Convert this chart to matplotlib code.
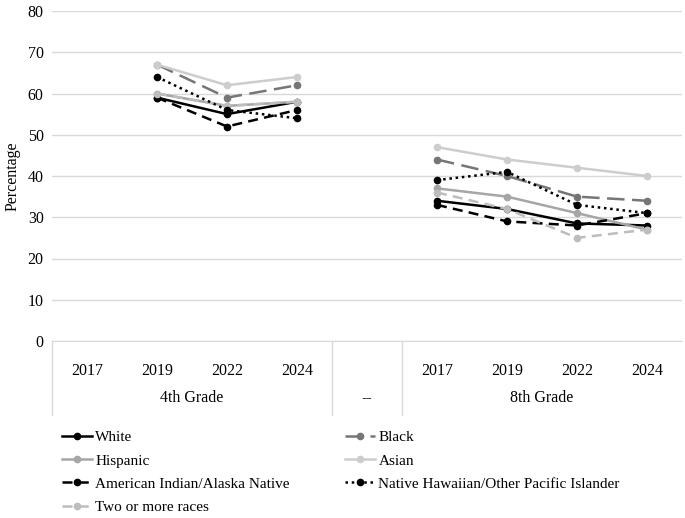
import numpy as np
import matplotlib.pyplot as plt
from matplotlib.lines import Line2D

# x slots: 4th grade 2017-2024, "--" gap, 8th grade 2017-2024
years = ["2017", "2019", "2022", "2024", "", "2017", "2019", "2022", "2024"]
groups = ["4th Grade", "--", "8th Grade"]

nan = np.nan
white = [nan, 59, 55, 58, nan, 34, 32, 28.5, 28]
black = [nan, 67, 59, 62, nan, 44, 40, 35, 34]
hispanic = [nan, 60, 57, 58, nan, 37, 35, 31, 27]
asian = [nan, 67, 62, 64, nan, 47, 44, 42, 40]
aian = [nan, 59, 52, 56, nan, 33, 29, 28, 31]
nhpi = [nan, 64, 56, 54, nan, 39, 41, 33, 31]
two_more = [nan, 60, 57, 58, nan, 36, 32, 25, 27]


def main():
    plt.rcParams["font.family"] = ["Liberation Serif", "DejaVu Serif"]
    fig = plt.figure(figsize=(6.85, 5.18), dpi=100)
    ax = fig.add_axes([52 / 685, 1 - 341 / 518, 630 / 685, 330 / 518])

    x = np.arange(len(years))
    series = [
        ("White", white, "#000000", "-", 1.8),
        ("Hispanic", hispanic, "#a6a6a6", "-", 1.8),
        ("American Indian/Alaska Native", aian, "#000000", (0, (4, 2.5)), 1.8),
        ("Two or more races", two_more, "#bdbdbd", (0, (4, 2.5)), 1.8),
        ("Black", black, "#767676", (0, (7, 3)), 1.8),
        ("Asian", asian, "#cdcdcd", "-", 1.8),
        ("Native Hawaiian/Other Pacific Islander", nhpi, "#000000", (0, (1, 1.5)), 1.8),
    ]
    for name, vals, col, ls, lw in series:
        ax.plot(x, vals, color=col, linestyle=ls, linewidth=lw,
                marker="o", markersize=4.5, label=name)

    ax.set_xlim(-0.5, 8.5)
    ax.set_ylim(0, 80)
    ax.set_yticks(range(0, 81, 10))
    ax.grid(axis="y", color="#d9d9d9", linewidth=1)
    ax.set_axisbelow(True)
    for s in ["top", "right", "left"]:
        ax.spines[s].set_visible(False)
    ax.spines["bottom"].set_color("#d9d9d9")
    ax.tick_params(axis="y", length=0, labelsize=11.5, pad=6)
    ax.set_xticks(x)
    ax.set_xticklabels(years, fontsize=11.5)
    ax.tick_params(axis="x", length=0, pad=16)
    ax.set_ylabel("Percentage", fontsize=11.5, va="center")
    ax.yaxis.set_label_coords(-0.062, 0.5)

    # group labels and separator lines under the axis
    tr = ax.get_xaxis_transform()
    for pos, g in zip([1.5, 4, 6.5], groups):
        ax.text(pos, -0.172, g, transform=tr, ha="center", va="center", fontsize=11.5)
    for xs in [-0.5, 3.5, 4.5]:
        ax.add_line(Line2D([xs, xs], [0, -0.225], transform=tr, color="#d9d9d9",
                           linewidth=1, clip_on=False))

    fig.legend(loc="upper left", bbox_to_anchor=(48 / 685, 1 - 417 / 518),
               ncol=2, frameon=False, fontsize=11, handlelength=2.0,
               columnspacing=3.6, labelspacing=0.62, handletextpad=0.2)

    fig.savefig("out.png", dpi=100)


if __name__ == "__main__":
    main()
